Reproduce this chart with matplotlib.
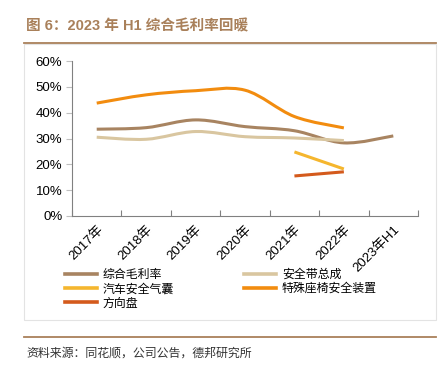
import matplotlib
matplotlib.use("Agg")
import matplotlib.pyplot as plt
from matplotlib.path import Path
from matplotlib.patches import PathPatch, Rectangle
from matplotlib.lines import Line2D
import numpy as np

plt.rcParams['font.family'] = ['Liberation Sans', 'Noto Sans CJK SC', 'DejaVu Sans']

years = ['2017年', '2018年', '2019年', '2020年', '2021年', '2022年', '2023年H1']
total_margin = [0.336, 0.342, 0.372, 0.346, 0.330, 0.283, 0.310]
seatbelt = [0.305, 0.297, 0.327, 0.307, 0.302, 0.292, None]
airbag = [None, None, None, None, 0.248, 0.182, None]
special_seat = [0.437, 0.469, 0.485, 0.487, 0.385, 0.341, None]
steering = [None, None, None, None, 0.155, 0.171, None]

names = ['综合毛利率', '安全带总成', '汽车安全气囊', '特殊座椅安全装置', '方向盘']
colors = ['#A88461', '#D9C6A0', '#F5B62E', '#F28C0F', '#D45A1C']
series = [total_margin, seatbelt, airbag, special_seat, steering]

brown = '#A9805A'


def smooth_path(xs, ys, k=1/6):
    # bezier control points, similar to office "smoothed line"
    pts = list(zip(xs, ys))
    verts = [pts[0]]
    codes = [Path.MOVETO]
    n = len(pts)
    for i in range(n - 1):
        p0 = pts[i - 1] if i > 0 else pts[i]
        p1 = pts[i]
        p2 = pts[i + 1]
        p3 = pts[i + 2] if i + 2 < n else pts[i + 1]
        c1 = (p1[0] + (p2[0] - p0[0]) * k, p1[1] + (p2[1] - p0[1]) * k)
        c2 = (p2[0] - (p3[0] - p1[0]) * k, p2[1] - (p3[1] - p1[1]) * k)
        verts += [c1, c2, p2]
        codes += [Path.CURVE4] * 3
    return Path(verts, codes)


fig = plt.figure(figsize=(4.43, 3.66), dpi=100)

# frame lines and box
fig.add_artist(Line2D([24/443, 436/443], [1 - 43/366, 1 - 43/366], color=brown, lw=1.3))
fig.add_artist(Line2D([24/443, 436/443], [1 - 337/366, 1 - 337/366], color=brown, lw=1.3))
fig.add_artist(Rectangle((24/443, 1 - 320/366), 412/443, 276/366, fill=False,
                         edgecolor='#E3E3E3', lw=0.8))

fig.text(26/443, 1 - 26/366, '图 6：2023 年 H1 综合毛利率回暖', color=brown,
         fontsize=10.5, fontweight='bold', va='center', ha='left')
fig.text(26/443, 1 - 353/366, '资料来源：同花顺，公司公告，德邦研究所', color='#333333',
         fontsize=8.6, va='center', ha='left', family=['Noto Sans CJK SC'])

ax = fig.add_axes([72/443, 1 - 216/366, 346/443, 155/366])
x = np.arange(len(years))
handles = []
for vals, c, name in zip(series, colors, names):
    xs = [xi for xi, v in zip(x, vals) if v is not None]
    ys = [v for v in vals if v is not None]
    ax.add_patch(PathPatch(smooth_path(xs, ys), facecolor='none', edgecolor=c,
                           lw=2.2, capstyle='butt'))
    handles.append(Line2D([], [], color=c, lw=2.6, label=name))

ax.set_xlim(-0.5, len(years) - 0.5)
ax.set_ylim(0, 0.6)
ax.set_yticks(np.arange(0, 0.61, 0.1))
ax.set_yticklabels([f'{int(round(v*100))}%' for v in np.arange(0, 0.61, 0.1)], fontsize=9.5)
ax.set_xticks(np.arange(-0.5, len(years), 1.0), minor=False)
ax.set_xticklabels([])
ax.set_xticks(x, minor=True)
ax.set_xticklabels(years, minor=True, rotation=45, ha='right', va='top', fontsize=9.5,
                   rotation_mode='anchor')
ax.tick_params(axis='x', which='minor', length=0, pad=5)
ax.tick_params(axis='x', which='major', length=4, direction='in', color='#808080')
ax.tick_params(axis='y', length=4, color='#BFBFBF', pad=3)
for s in ['top', 'right']:
    ax.spines[s].set_visible(False)
ax.spines['left'].set_color('#808080')
ax.spines['bottom'].set_color('#808080')

# row-wise legend order for 2 columns
order = [0, 2, 4, 1, 3]
leg = fig.legend([handles[i] for i in order], [names[i] for i in order],
                 loc='upper left', bbox_to_anchor=(60/443, 1 - 263/366), ncol=2,
                 frameon=False, handlelength=2.7, handletextpad=0.45,
                 columnspacing=5.9, labelspacing=0.12, borderaxespad=0,
                 prop={'family': ['Noto Sans CJK SC'], 'size': 8.6})

fig.savefig('out.png', dpi=100)
